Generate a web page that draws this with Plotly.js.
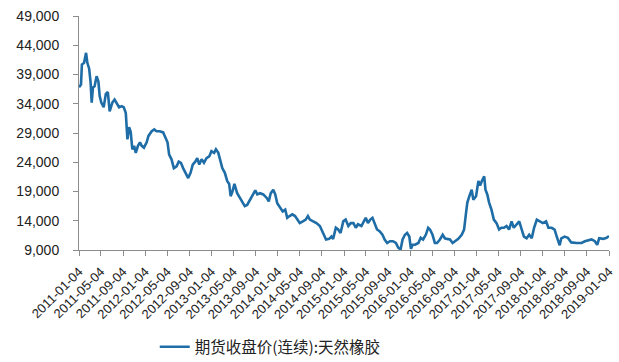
<!DOCTYPE html>
<html>
<head>
<meta charset="utf-8">
<script src="https://cdn.plot.ly/plotly-3.0.1.min.js"></script>
<style>html,body{margin:0;padding:0;background:#fff;}#chart{width:619px;height:362px;}</style>
</head>
<body>
<div id="chart"></div>
<script>
const seriesName = "期货收盘价(连续):天然橡胶";
const dates = [
"2011-01-04","2011-01-15","2011-01-20","2011-02-01","2011-02-12","2011-02-19","2011-03-01","2011-03-09","2011-03-15","2011-03-22",
"2011-03-31","2011-04-11","2011-04-21","2011-04-28","2011-05-07","2011-05-20","2011-06-01","2011-06-12","2011-06-22","2011-07-07",
"2011-07-19","2011-08-02","2011-08-13","2011-08-28","2011-09-08","2011-09-19","2011-09-23","2011-09-28","2011-10-07","2011-10-16",
"2011-10-25","2011-11-04","2011-11-13","2011-11-25","2011-12-06","2011-12-16","2011-12-28","2012-01-12","2012-01-22","2012-02-09",
"2012-02-23","2012-03-06","2012-03-24","2012-04-12","2012-04-25","2012-05-06","2012-05-15","2012-05-28","2012-06-10","2012-06-25",
"2012-07-07","2012-07-19","2012-07-31","2012-08-15","2012-08-28","2012-09-10","2012-09-22","2012-10-06","2012-10-17","2012-10-28",
"2012-11-10","2012-11-23","2012-12-07","2012-12-22","2013-01-03","2013-01-18","2013-01-28","2013-02-10","2013-02-19","2013-03-04",
"2013-03-18","2013-03-31","2013-04-11","2013-04-19","2013-04-29","2013-05-10","2013-05-25","2013-06-09","2013-06-24","2013-07-06",
"2013-07-19","2013-08-04","2013-08-18","2013-09-02","2013-09-13","2013-09-28","2013-10-16","2013-11-04","2013-11-15","2013-11-26",
"2013-12-10","2013-12-21","2014-01-01","2014-01-16","2014-01-31","2014-02-14","2014-02-25","2014-03-10","2014-03-25","2014-04-09",
"2014-04-20","2014-05-05","2014-05-22","2014-06-07","2014-06-19","2014-06-30","2014-07-18","2014-08-05","2014-08-24","2014-09-12",
"2014-09-27","2014-10-14","2014-10-27","2014-11-05","2014-11-20","2014-12-03","2014-12-16","2014-12-31","2015-01-13","2015-01-28",
"2015-02-10","2015-02-25","2015-03-10","2015-03-22","2015-04-10","2015-04-22","2015-05-04","2015-05-16","2015-05-29","2015-06-10",
"2015-06-22","2015-07-05","2015-07-19","2015-08-04","2015-08-16","2015-08-30","2015-09-14","2015-10-01","2015-10-17","2015-10-30",
"2015-11-12","2015-11-23","2015-12-06","2015-12-18","2015-12-30","2016-01-08","2016-01-18","2016-01-31","2016-02-18","2016-03-02",
"2016-03-15","2016-03-30","2016-04-12","2016-04-22","2016-05-06","2016-05-19","2016-05-31","2016-06-16","2016-07-01","2016-07-13",
"2016-07-25","2016-08-10","2016-08-25","2016-09-07","2016-09-25","2016-10-14","2016-10-27","2016-11-07","2016-11-14","2016-11-25",
"2016-12-08","2016-12-17","2017-01-01","2017-01-14","2017-01-23","2017-02-02","2017-02-15","2017-02-22","2017-03-04","2017-03-14",
"2017-03-27","2017-04-09","2017-04-24","2017-05-08","2017-05-21","2017-06-04","2017-06-18","2017-07-02","2017-07-16","2017-07-28",
"2017-08-13","2017-08-27","2017-09-10","2017-09-22","2017-10-07","2017-10-21","2017-11-04","2017-11-17","2017-12-02","2017-12-16",
"2018-01-04","2018-01-22","2018-02-04","2018-02-22","2018-03-10","2018-03-22","2018-04-07","2018-04-16","2018-05-04","2018-05-22",
"2018-06-10","2018-07-09","2018-08-06","2018-08-24","2018-09-12","2018-09-30","2018-10-18","2018-10-31","2018-11-11","2018-12-03",
"2018-12-22","2019-01-04"
];
const closePrice = [
36800,37300,40700,41000,42700,41000,40000,37600,34200,36800,
37000,38700,37800,35300,34200,33400,35700,36000,32700,34200,
34700,33900,33400,33600,33400,32400,29600,27900,30000,29200,
26200,26800,25600,26800,27400,26800,26500,27400,28500,29300,
29600,29300,29300,29100,28200,27400,25300,24500,23000,23300,
24100,23900,23000,22200,21300,22200,23600,24100,24700,23600,
24500,23900,24700,25000,25900,25600,26200,25600,24500,23000,
22200,20800,20300,18200,19000,20300,18700,17900,17000,16500,
16700,17600,18500,19200,18500,18700,18500,17900,17300,18700,
19300,18500,17000,16200,15600,15900,14500,14800,15100,14800,
14200,13600,13900,14200,14800,14200,13900,13600,13100,11900,
10800,10900,11300,10900,12800,12500,11900,13900,14200,13100,
13600,13600,12800,13400,13100,13800,14500,13600,14200,14500,
13400,12500,12200,11600,10800,10200,10500,10500,10200,9400,
9100,10800,11600,11900,11300,9200,9900,9900,10200,11100,
10800,11600,12800,12500,11600,10200,10200,10800,11600,11000,
10900,10800,10200,10500,10900,11600,12500,15400,17100,18200,
19300,17600,18200,20800,20000,20800,21600,19300,18500,17100,
15900,14200,13600,12500,12800,12800,13100,12500,13900,12800,
13400,13900,12500,11300,11000,11600,11000,12800,14200,13900,
13600,13900,12800,12800,12500,11300,9800,11000,11300,11100,
10300,10200,10200,10500,10600,10800,10500,9900,11000,10900,
11100,11400
];
const tickDates = ["2011-01-04","2011-05-04","2011-09-04","2012-01-04","2012-05-04","2012-09-04","2013-01-04","2013-05-04","2013-09-04",
"2014-01-04","2014-05-04","2014-09-04","2015-01-04","2015-05-04","2015-09-04","2016-01-04","2016-05-04","2016-09-04",
"2017-01-04","2017-05-04","2017-09-04","2018-01-04","2018-05-04","2018-09-04","2019-01-04"];
const yTicks = [9000,14000,19000,24000,29000,34000,39000,44000,49000];

const trace = {
  x: dates, y: closePrice, type: 'scatter', mode: 'lines', name: seriesName,
  line: {color: '#1F6DA6', width: 2.6}
};
const layout = {
  width: 619, height: 362,
  margin: {l: 79, r: 10, t: 16, b: 112, autoexpand: false},
  paper_bgcolor: '#fff', plot_bgcolor: '#fff',
  font: {family: 'Liberation Sans, Arial, sans-serif', color: '#222', size: 12},
  showlegend: true,
  legend: {orientation: 'h', xref: 'container', yref: 'container', x: 0.25, xanchor: 'left', y: 0.041, yanchor: 'middle',
    font: {family: 'Noto Sans CJK SC, sans-serif', size: 15.5, color: '#222'}},
  xaxis: {
    type: 'date', range: ['2011-01-04', '2019-01-04'], automargin: false,
    tickmode: 'array', tickvals: tickDates, ticktext: tickDates, tickangle: -45,
    showgrid: false, zeroline: false, showline: true, linecolor: '#8c8c8c', linewidth: 1,
    ticks: 'outside', ticklen: 5, tickcolor: '#8c8c8c', ticklabelstandoff: 3,
    tickfont: {size: 13, color: '#222'}
  },
  yaxis: {
    range: [9000, 49000], tickmode: 'array', tickvals: yTicks, automargin: false,
    ticktext: yTicks.map(v => v.toLocaleString('en-US')),
    showgrid: false, zeroline: false, showline: true, linecolor: '#8c8c8c', linewidth: 1,
    ticks: 'outside', ticklen: 5, tickcolor: '#8c8c8c', ticklabelstandoff: 11,
    tickfont: {size: 14, color: '#222'}
  }
};
Plotly.newPlot('chart', [trace], layout, {displayModeBar: false, staticPlot: true});
</script>
</body>
</html>
